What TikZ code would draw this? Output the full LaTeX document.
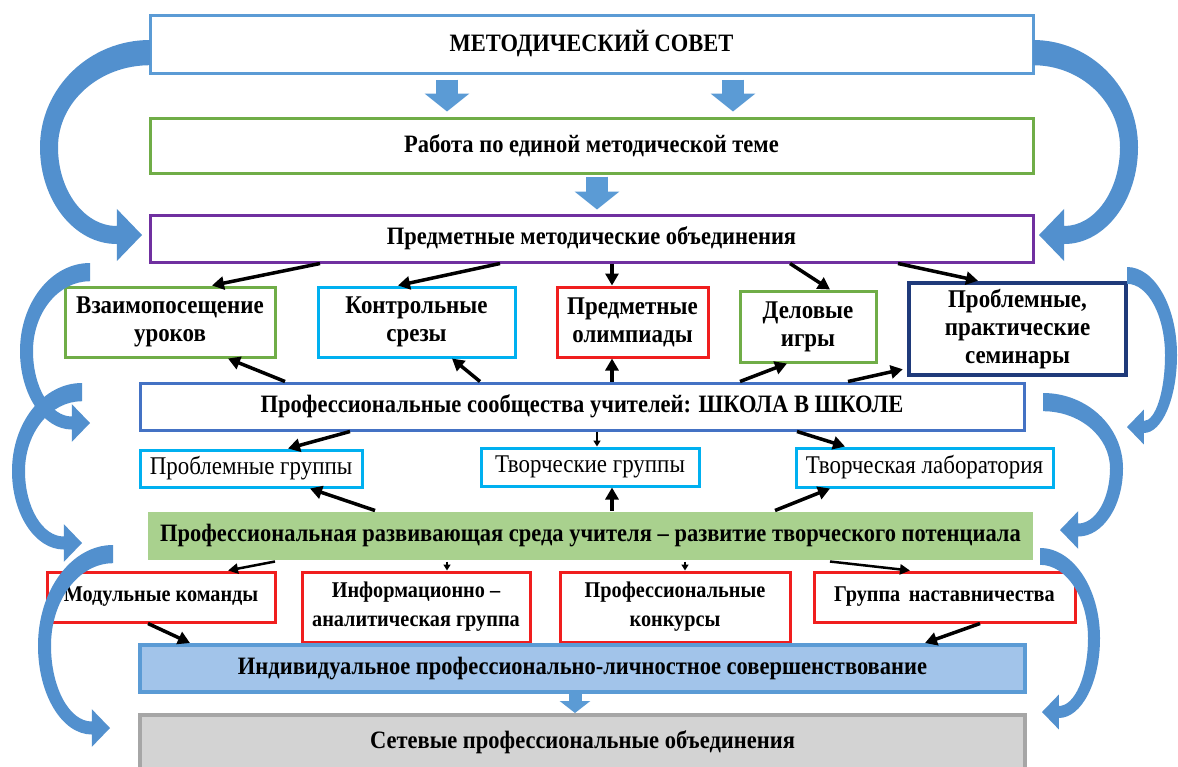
\documentclass[tikz,border=0pt]{standalone}
\usepackage{fontspec}
\setmainfont{Liberation Serif}[FakeStretch=0.9]
\usetikzlibrary{arrows.meta}
\definecolor{cBlueL}{HTML}{5B9BD5}
\definecolor{cBlueM}{HTML}{4472C4}
\definecolor{cGreen}{HTML}{70AD47}
\definecolor{cPurple}{HTML}{7030A0}
\definecolor{cCyan}{HTML}{00B0F0}
\definecolor{cRed}{HTML}{F01E1E}
\definecolor{cNavy}{HTML}{1F3A7A}
\definecolor{cFillG}{HTML}{A9D18E}
\definecolor{cFillB}{HTML}{A2C4EA}
\definecolor{cFillGr}{HTML}{D3D3D3}
\definecolor{cGray}{HTML}{A6A6A6}
\definecolor{arcblue}{HTML}{5290CE}
\newcommand\sidearc[7]{%
\pgfmathsetmacro\aW{#3}\pgfmathsetmacro\aH{#4}\pgfmathsetmacro\aT{#5}\pgfmathsetmacro\aP{#6}%
\pgfmathsetmacro\aTs{1.4*\aT}%
\pgfmathsetmacro\aL{1.4*\aT}%
\pgfmathsetmacro\aHw{1.45*\aT}%
\pgfmathsetmacro\ate{0.5*\aT}%
\pgfmathsetmacro\avm{0.55*\aH}%
\pgfmathsetmacro\aBx{\aP-\aL}%
\pgfmathsetmacro\aA{\aBx+\aW}%
\pgfmathsetmacro\aB{\aH+\ate-\avm}%
\pgfmathsetmacro\aAi{\aBx+\aW-\aT}%
\pgfmathsetmacro\aBi{\aH-\ate-\avm}%
\pgfmathsetmacro\aAii{\aW-\aT}%
\pgfmathsetmacro\aBii{\avm-\aTs}%
\begin{scope}[shift={(#1,#2)}, xscale=#7]
\fill[arcblue] (0,0) .. controls ({-0.552*\aW},0) and ({-\aW},{0.448*\avm}) .. ({-\aW},\avm)
 .. controls ({-\aW},{\avm+0.552*\aB}) and ({\aBx-0.552*\aA},{\aH+\ate}) .. (\aBx,{\aH+\ate})
 -- (\aBx,{\aH+\aHw}) -- (\aP,\aH) -- (\aBx,{\aH-\aHw}) -- (\aBx,{\aH-\ate})
 .. controls ({\aBx-0.552*\aAi},{\aH-\ate}) and ({-\aW+\aT},{\avm+0.552*\aBi}) .. ({-\aW+\aT},\avm)
 .. controls ({-\aW+\aT},{\avm-0.552*\aBii}) and ({-0.552*\aAii},\aTs) .. (0,\aTs) -- cycle;
\end{scope}}
\begin{document}
\begin{tikzpicture}[x=1pt,y=-1pt,
  box/.style={draw, line width=3pt, inner sep=0pt, align=center, text=black,
    font=\bfseries\fontsize{25}{28}\selectfont},
  qbox/.style={box, font=\bfseries\fontsize{25.5}{28}\selectfont},
  sbox/.style={box, font=\bfseries\fontsize{22.5}{29}\selectfont},
  rbox/.style={box, font=\fontsize{25.5}{28}\selectfont},
  blk/.style={line width=3.5pt, -{Triangle[width=13pt,length=12pt]}},
  blkm/.style={line width=2.5pt, -{Triangle[width=10pt,length=10pt]}},
  blks/.style={line width=1.8pt, -{Triangle[width=7pt,length=6pt]}},
  barr/.style={draw=cBlueL, line width=22pt, -{Triangle[width=44pt,length=18pt]}},
  barrs/.style={draw=cBlueL, line width=13pt, -{Triangle[width=30pt,length=12pt]}}]
\useasboundingbox (0,0) rectangle (1178,766);
\fill[white] (0,0) rectangle (1178,766);
% boxes
\node[box, draw=cBlueL, minimum width=883pt, minimum height=58pt] (n1) at (591.5,44) {МЕТОДИЧЕСКИЙ СОВЕТ};
\node[box, draw=cGreen, minimum width=883pt, minimum height=55pt] (n2) at (591.5,145.5) {Работа по единой методической теме};
\node[box, draw=cPurple, minimum width=883pt, minimum height=47pt] (n3) at (591.5,238.5) {Предметные методические объединения};
\node[qbox, draw=cGreen, minimum width=210pt, minimum height=70pt] (n41) at (170,322) {Взаимопосещение\\уроков};
\node[qbox, draw=cCyan, minimum width=197pt, minimum height=70pt] (n42) at (416.5,322) {Контрольные\\срезы};
\node[qbox, draw=cRed, minimum width=151pt, minimum height=70pt] (n43) at (632.5,322) {Предметные\\олимпиады};
\node[qbox, draw=cGreen, minimum width=136pt, minimum height=71pt] (n44) at (808,326.5) {Деловые\\игры};
\node[qbox, draw=cNavy, line width=4.5pt, minimum width=217pt, minimum height=92pt] (n45) at (1017.5,329) {Проблемные,\\практические\\семинары};
\node[box, draw=cBlueM, minimum width=884pt, minimum height=47pt] (n5) at (582,406.5) {Профессиональные сообщества учителей: ШКОЛА В ШКОЛЕ};
\node[rbox, draw=cCyan, minimum width=222pt, minimum height=37pt] (n61) at (251,468.5) {Проблемные группы};
\node[rbox, draw=cCyan, minimum width=218pt, minimum height=38pt] (n62) at (590,467) {Творческие группы};
\node[rbox, draw=cCyan, minimum width=257pt, minimum height=39pt] (n63) at (924.5,467.5) {Творческая лаборатория};
\node[box, draw=none, fill=cFillG, minimum width=885pt, minimum height=48pt] (n7) at (590.5,536) {Профессиональная развивающая среда учителя – развитие творческого потенциала};
\node[sbox, draw=cRed, minimum width=228pt, minimum height=50pt] (n81) at (161,597) {Модульные команды};
\node[sbox, draw=cRed, minimum width=228pt, minimum height=70pt] (n82) at (416,607) {Информационно –\\аналитическая группа};
\node[sbox, draw=cRed, minimum width=230pt, minimum height=70pt] (n83) at (675,607) {Профессиональные\\конкурсы};
\node[sbox, draw=cRed, minimum width=261pt, minimum height=50pt] (n84) at (944.5,597) {Группа\hspace{0.15em} наставничества};
\node[box, draw=cBlueL, line width=4pt, fill=cFillB, minimum width=885pt, minimum height=47pt] (n9) at (582.5,668.5) {Индивидуальное профессионально-личностное совершенствование};
\node[box, draw=cGray, line width=4pt, fill=cFillGr, minimum width=885pt, minimum height=55pt] (n10) at (582.5,742.5) {Сетевые профессиональные объединения};
% block arrows
\draw[barr, shorten <=5pt, shorten >=5pt] ([xshift=-144.5pt]n1.south) -- ([xshift=-144.5pt]n2.north);
\draw[barr, shorten <=5pt, shorten >=5pt] ([xshift=141.5pt]n1.south) -- ([xshift=141.5pt]n2.north);
\draw[barr, shorten <=2pt, shorten >=4pt] ([xshift=5.5pt]n2.south) -- ([xshift=5.5pt]n3.north);
\draw[barrs] ([xshift=-7.5pt]n9.south) -- ([xshift=-7.5pt]n10.north);
% black arrows from n3
\draw[blk] ([xshift=-271.5pt]n3.south) -- ([xshift=42pt]n41.north);
\draw[blk] ([xshift=-91.5pt]n3.south) -- ([xshift=-18.5pt]n42.north);
\draw[blk] ([xshift=20.5pt]n3.south) -- ([xshift=-20.5pt]n43.north);
\draw[blk] ([xshift=198.5pt]n3.south) -- ([xshift=22pt]n44.north);
\draw[blk] ([xshift=306.5pt]n3.south) -- ([xshift=-39.5pt]n45.north);
% from n5 up
\draw[blk] ([xshift=-297pt]n5.north) -- ([xshift=58pt]n41.south);
\draw[blk] ([xshift=-102pt]n5.north) -- ([xshift=35.5pt]n42.south);
\draw[blk] ([xshift=30pt]n5.north) -- ([xshift=-20.5pt]n43.south);
\draw[blk] ([xshift=158pt]n5.north) -- ([xshift=-21pt]n44.south);
\draw[blk] ([xshift=266pt]n5.north) -- ([xshift=-4pt,yshift=8pt]n45.south west);
% from n5 down
\draw[blk] ([xshift=-232pt]n5.south) -- ([xshift=37pt]n61.north);
\draw[blks] ([xshift=15pt]n5.south) -- ([xshift=7pt]n62.north);
\draw[blk] ([xshift=215pt]n5.south) -- ([xshift=-79.5pt]n63.north);
% from n7 up
\draw[blk] ([xshift=-215.5pt]n7.north) -- ([xshift=59pt]n61.south);
\draw[blk] ([xshift=21.5pt]n7.north) -- ([xshift=22pt]n62.south);
\draw[blk] ([xshift=184.5pt]n7.north) -- ([xshift=-94.5pt]n63.south);
% from n7 down
\draw[blkm] ([xshift=-315.5pt]n7.south) -- ([xshift=67pt]n81.north);
\draw[blks] ([xshift=-143.5pt]n7.south) -- ([xshift=31pt]n82.north);
\draw[blks] ([xshift=94.5pt]n7.south) -- ([xshift=10pt]n83.north);
\draw[blkm] ([xshift=239.5pt]n7.south) -- ([xshift=-34.5pt]n84.north);
% into n9
\draw[blk] ([xshift=-13pt]n81.south) -- ([xshift=-392.5pt]n9.north);
\draw[blk] ([xshift=35.5pt]n84.south) -- ([xshift=342.5pt]n9.north);
% side arcs
\sidearc{150}{40}{110}{195}{18}{-8}{1}
\sidearc{82}{383}{70}{160}{13}{0}{1}
\sidearc{90}{263}{70}{160}{13}{0}{1}
\sidearc{113}{545}{75}{183}{13}{-3}{1}
\sidearc{1033}{40}{105}{195}{18}{-6}{-1}
\sidearc{1127}{267}{50}{160}{12}{0}{-1}
\sidearc{1043}{393}{80}{137}{13}{-17}{-1}
\sidearc{1040}{548}{60}{164}{12}{-2}{-1}
\end{tikzpicture}
\end{document}
